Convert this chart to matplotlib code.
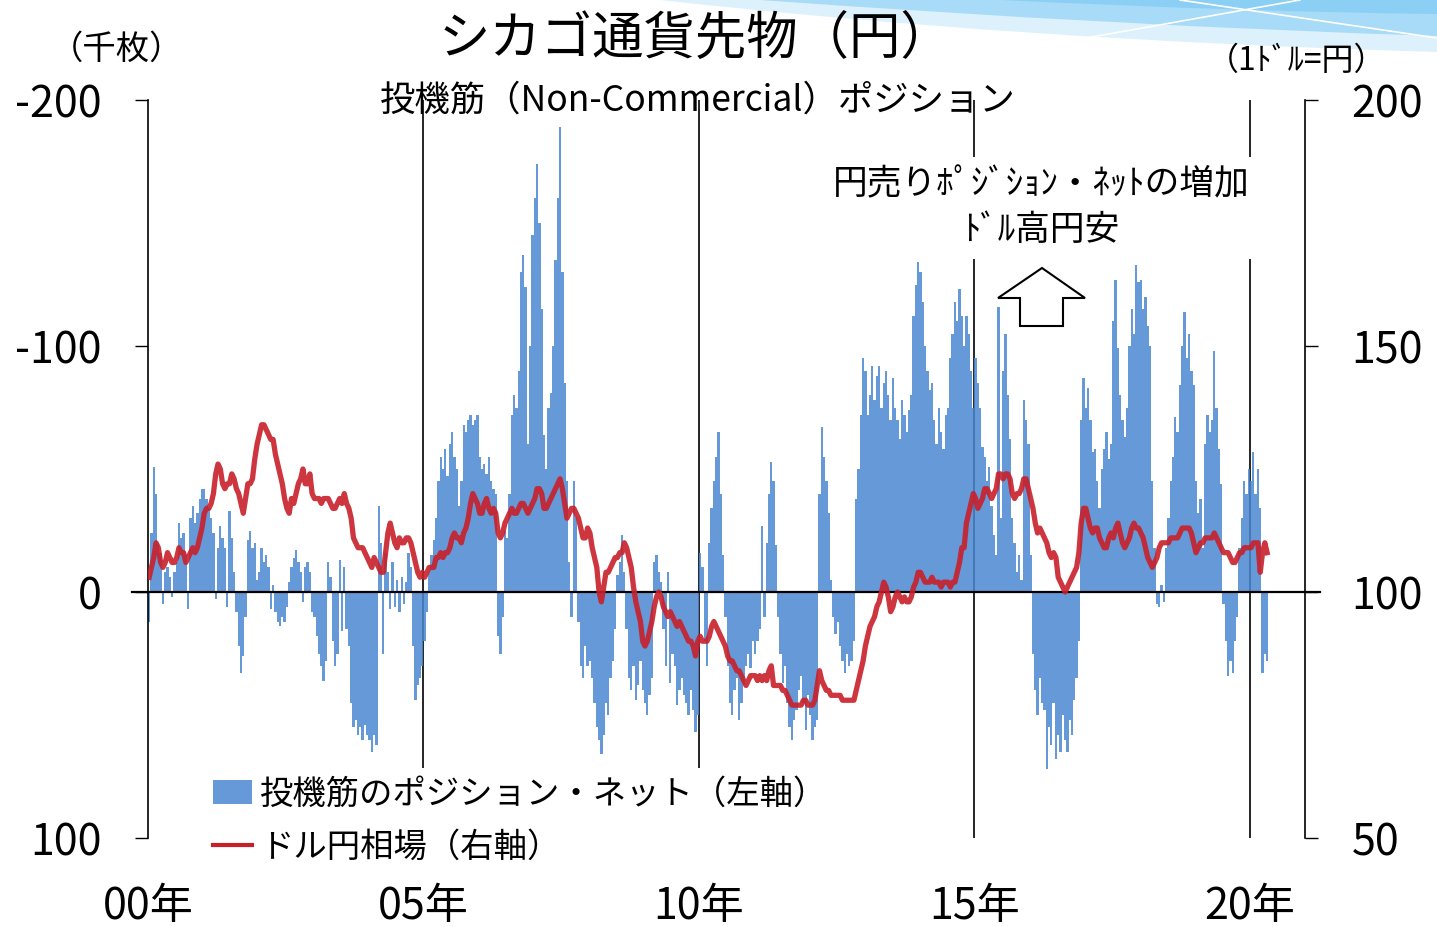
import numpy as np
import matplotlib
matplotlib.use('Agg')
import matplotlib.pyplot as plt
from matplotlib.patches import Polygon, PathPatch, Patch
from matplotlib.path import Path
from matplotlib.lines import Line2D

plt.rcParams['font.family'] = ['Noto Sans CJK JP', 'DejaVu Sans']
plt.rcParams['axes.unicode_minus'] = False

# ---------------- data (semi-monthly readings) ----------------
start_year = 2000
# speculators' net yen position (thousand contracts; negative = yen short)
net_2000 = [12, -24, -51, -40, -20, -16, 5, -8, -10, -6, 2, -8, -12, -28, -22, -24, -15, 7, -30, -35, -28, -32, -38, -42]
net_2001 = [-42, -38, -34, -30, -24, 3, -18, -27, -22, -18, 6, -33, -22, -8, 8, 22, 33, 26, 10, -21, -25, -18, -20, -5]
net_2002 = [-8, -18, -12, -15, -10, 7, -3, 8, 12, 14, 10, 12, 6, -4, -10, -14, -17, -12, -8, 4, -10, -12, -8, 8]
net_2003 = [10, 18, 25, 30, 36, 28, -12, -6, 20, 30, 25, -13, 16, -10, 15, 22, 45, 55, 52, 58, 55, 60, 54, 58]
net_2004 = [60, 65, 58, 62, -35, -20, 25, -16, -8, 7, -12, 6, -5, 8, -6, 5, -4, -16, -10, 22, 44, 38, 35, 30]
net_2005 = [20, 8, -8, -15, -21, -30, -45, -55, -50, -58, -47, -60, -65, -55, -50, -35, -45, -68, -65, -70, -72, -68, -70, -72]
net_2006 = [-55, -50, -52, -48, -55, -45, -42, -40, 18, 25, 10, -25, -22, -40, -72, -80, -75, -90, -130, -137, -124, -60, -100, -145]
net_2007 = [-160, -174, -150, -115, -64, -50, -75, -81, -100, -135, -160, -189, -130, -85, -45, -12, 10, -45, -30, 12, 30, 35, 22, 30]
net_2008 = [28, 35, 45, 55, 60, 66, 58, 45, 50, 35, 28, 15, -7, -12, -23, -8, 15, 35, 40, 30, 44, 38, 28, 40]
net_2009 = [45, 50, 42, 35, -12, -15, -8, -4, 15, 30, -8, 37, 25, 30, 46, 40, 35, 42, 45, 50, 40, 48, 57, 50]
net_2010 = [-16, -10, 20, 30, -20, -34, -45, -55, -65, -40, -15, 10, 30, 45, 50, 40, 35, 52, 45, 38, 30, 25, 31, 20]
net_2011 = [25, 20, 15, -27, 10, -20, -40, -53, -45, -19, 10, 25, 37, 30, 45, 55, 60, 52, 48, 40, 34, 45, 56, 42]
net_2012 = [50, 60, 55, 52, -40, -67, -55, -45, -32, -5, 10, 17, 12, 22, 28, 33, 25, 30, 28, 20, -38, -50, -72, -95]
net_2013 = [-90, -72, -80, -92, -78, -88, -92, -75, -85, -90, -80, -70, -87, -75, -70, -62, -78, -72, -65, -74, -80, -112, -125, -134]
net_2014 = [-130, -118, -100, -90, -82, -85, -70, -60, -75, -65, -58, -72, -75, -95, -105, -118, -110, -123, -112, -100, -112, -105, -90, -75]
net_2015 = [-95, -85, -75, -59, -55, -45, -51, -35, -23, -15, -116, -30, -90, -105, -80, -62, -30, -20, -8, -15, -5, -78, -70, -60]
net_2016 = [-15, 25, 40, 50, 35, 45, 48, 72, 55, 62, 45, 68, 58, 65, 50, 60, 65, 52, 58, 44, 35, 20, -70, -87]
net_2017 = [-75, -83, -70, -57, -58, -45, -34, -50, -58, -65, -54, -60, -110, -127, -99, -80, -70, -63, -75, -100, -115, -105, -133, -126]
net_2018 = [-127, -115, -120, -108, -100, -45, -18, 5, 6, -3, 4, -18, -30, -45, -55, -71, -65, -84, -100, -114, -95, -105, -90, -84]
net_2019 = [-45, -32, -38, -18, -60, -72, -65, -70, -98, -75, -58, -44, 5, 20, 34, 28, 33, 20, 10, -18, -30, -45, -40, -50]
net_2020 = [-45, -57, -40, -50, -34, 33, 25, 28]

# USD/JPY rate (yen per dollar)
fx_2000 = [103, 105, 107, 110, 109, 106, 105, 106, 108, 107, 106, 106, 107, 109, 108, 108, 106, 107, 108, 109, 108, 109, 111, 113]
fx_2001 = [116, 117, 117, 118, 120, 124, 126, 125, 122, 121, 122, 122, 124, 123, 121, 120, 118, 116, 119, 122, 122, 123, 127, 130]
fx_2002 = [132, 134, 134, 133, 132, 131, 131, 128, 126, 124, 122, 119, 117, 116, 119, 118, 120, 122, 123, 125, 122, 122, 124, 120]
fx_2003 = [119, 119, 119, 118, 119, 119, 119, 118, 117, 117, 118, 119, 118, 120, 118, 117, 115, 111, 110, 109, 109, 109, 108, 107]
fx_2004 = [106, 105, 107, 106, 105, 104, 104, 108, 112, 114, 112, 110, 109, 111, 110, 110, 111, 111, 110, 108, 106, 104, 103, 104]
fx_2005 = [103, 104, 105, 105, 105, 107, 107, 108, 107, 108, 108, 109, 111, 112, 111, 111, 110, 112, 113, 115, 118, 120, 119, 118]
fx_2006 = [116, 116, 118, 119, 117, 116, 117, 116, 112, 111, 112, 114, 115, 116, 117, 116, 116, 117, 118, 118, 117, 116, 117, 118]
fx_2007 = [119, 121, 121, 120, 117, 117, 118, 119, 120, 121, 122, 123, 121, 118, 115, 116, 117, 117, 116, 115, 113, 111, 111, 113]
fx_2008 = [112, 109, 107, 105, 100, 98, 101, 104, 104, 105, 106, 107, 107, 108, 108, 110, 109, 107, 105, 101, 98, 96, 94, 90]
fx_2009 = [89, 90, 92, 94, 97, 99, 100, 99, 97, 96, 95, 96, 95, 94, 93, 94, 93, 92, 91, 90, 90, 89, 87, 90]
fx_2010 = [91, 90, 90, 90, 91, 93, 94, 93, 92, 91, 90, 89, 87, 86, 86, 85, 84, 84, 83, 82, 81, 82, 83, 83]
fx_2011 = [83, 82, 83, 82, 83, 82, 84, 85, 81, 81, 81, 81, 80, 80, 79, 78, 77, 77, 77, 77, 77, 78, 78, 77]
fx_2012 = [77, 77, 78, 81, 84, 82, 81, 80, 80, 79, 79, 79, 79, 79, 78, 78, 78, 78, 78, 78, 80, 82, 84, 86]
fx_2013 = [89, 91, 93, 94, 95, 97, 98, 100, 102, 101, 99, 96, 97, 99, 100, 99, 98, 99, 98, 98, 99, 101, 102, 104]
fx_2014 = [104, 103, 102, 102, 102, 103, 102, 102, 102, 101, 102, 102, 102, 101, 102, 102, 104, 106, 109, 109, 114, 116, 118, 120]
fx_2015 = [119, 117, 118, 119, 121, 121, 120, 119, 120, 121, 124, 124, 123, 124, 124, 123, 120, 119, 120, 120, 121, 123, 123, 121]
fx_2016 = [119, 117, 114, 112, 113, 112, 111, 110, 108, 107, 108, 107, 103, 102, 101, 100, 101, 102, 103, 104, 105, 108, 114, 117]
fx_2017 = [117, 115, 113, 112, 113, 113, 111, 110, 109, 109, 111, 112, 111, 113, 114, 112, 110, 109, 110, 111, 113, 114, 113, 113]
fx_2018 = [112, 111, 109, 107, 106, 105, 106, 107, 109, 110, 110, 110, 110, 111, 111, 111, 111, 112, 113, 113, 113, 113, 112, 110]
fx_2019 = [108, 109, 110, 110, 111, 111, 111, 111, 112, 111, 110, 109, 108, 108, 108, 107, 106, 106, 107, 108, 108, 109, 109, 109]
fx_2020 = [109, 110, 110, 110, 104, 108, 110, 108]

left_ticks = [-200, -100, 0, 100]
left_labels = ['-200', '-100', '0', '100']
right_ticks = [50, 100, 150, 200]
right_labels = ['50', '100', '150', '200']
x_ticks = [2000, 2005, 2010, 2015, 2020]
x_labels = ['00年', '05年', '10年', '15年', '20年']
divider_years = [2005, 2010, 2015, 2020]

title = 'シカゴ通貨先物（円）'
subtitle = '投機筋（Non-Commercial）ポジション'
left_unit = '（千枚）'
right_unit = '（1ﾄﾞﾙ=円）'
note = '円売りﾎﾟｼﾞｼｮﾝ・ﾈｯﾄの増加\nﾄﾞﾙ高円安'
legend_labels = ['投機筋のポジション・ネット（左軸）', 'ドル円相場（右軸）']

net_years = [net_2000, net_2001, net_2002, net_2003, net_2004, net_2005, net_2006,
             net_2007, net_2008, net_2009, net_2010, net_2011, net_2012, net_2013,
             net_2014, net_2015, net_2016, net_2017, net_2018, net_2019, net_2020]
fx_years = [fx_2000, fx_2001, fx_2002, fx_2003, fx_2004, fx_2005, fx_2006,
            fx_2007, fx_2008, fx_2009, fx_2010, fx_2011, fx_2012, fx_2013,
            fx_2014, fx_2015, fx_2016, fx_2017, fx_2018, fx_2019, fx_2020]

t_net, v_net, t_fx, v_fx = [], [], [], []
for i, (ny, fy) in enumerate(zip(net_years, fx_years)):
    for k, v in enumerate(ny):
        t_net.append(start_year + i + k / 24)
        v_net.append(v)
    for k, v in enumerate(fy):
        t_fx.append(start_year + i + (k + 0.5) / 24)
        v_fx.append(v)

# ---------------- figure ----------------
W, H = 1437, 927
fig = plt.figure(figsize=(W / 100, H / 100), dpi=100)

def fx_(x):
    return x / W

def fy_(y):
    return 1 - y / H

# decorative swoosh top-right
def swoosh(pts_top, ctrl, color, z):
    verts = [(fx_(a), fy_(b)) for a, b in pts_top] + [(fx_(ctrl[0]), fy_(ctrl[1])), (fx_(pts_top[0][0]), fy_(pts_top[0][1]))]
    codes = [Path.MOVETO] + [Path.LINETO] * (len(pts_top) - 1) + [Path.CURVE3, Path.CURVE3]
    fig.add_artist(PathPatch(Path(verts, codes), facecolor=color, edgecolor='none',
                             transform=fig.transFigure, zorder=z))

swoosh([(660, 0), (1437, 0), (1437, 52)], (1020, 40), '#DDF1FC', -3)
swoosh([(760, 0), (1437, 0), (1437, 36)], (1120, 26), '#A8DBF7', -2)
swoosh([(1000, 0), (1437, 0), (1437, 14)], (1250, 12), '#8CCFF4', -1)
fig.add_artist(Line2D([fx_(1030), fx_(1300)], [fy_(48), fy_(0)], color='white', lw=1.2,
                      transform=fig.transFigure, zorder=-0.5))
fig.add_artist(Line2D([fx_(1180), fx_(1437)], [fy_(0), fy_(38)], color='white', lw=1.2,
                      transform=fig.transFigure, zorder=-0.5))

ax = fig.add_axes([fx_(148), fy_(838), (1305 - 148) / W, (838 - 100) / H])
ax.set_facecolor('none')
ax.set_xlim(2000, 2021.0)
ax.set_ylim(100, -200)

for yr in divider_years:
    ax.axvline(yr, color='black', lw=1.2, zorder=1)

ax.bar(t_net, v_net, width=1 / 24, align='edge', color='#4B87D1', alpha=0.85,
       linewidth=0, zorder=2)
ax.plot([-0.014, 1.013], [0, 0], transform=ax.get_yaxis_transform(), color='black',
        lw=1.6, clip_on=False, zorder=3)

for s in ['top', 'bottom', 'right']:
    ax.spines[s].set_visible(False)
ax.spines['left'].set_linewidth(1.2)
ax.set_yticks(left_ticks, left_labels)
ax.tick_params(axis='y', direction='out', length=9.5, width=1.0, labelsize=31, pad=24)
ax.set_xticks(x_ticks, x_labels)
ax.tick_params(axis='x', length=0, labelsize=31, pad=34)

ax2 = ax.twinx()
ax2.set_ylim(50, 200)
ax2.plot(t_fx, v_fx, color='#C8202A', lw=3.8, alpha=0.9, solid_joinstyle='round', zorder=4)
for s in ['top', 'bottom', 'left']:
    ax2.spines[s].set_visible(False)
ax2.spines['right'].set_linewidth(1.2)
ax2.set_yticks(right_ticks, right_labels)
ax2.tick_params(axis='y', direction='out', length=9.5, width=1.0, labelsize=31, pad=24)

# texts
fig.text(fx_(695), fy_(40), title, ha='center', va='center', fontsize=37, zorder=10)
fig.text(fx_(698), fy_(101), subtitle, ha='center', va='center', fontsize=25.5, zorder=10)
fig.text(fx_(117), fy_(49), left_unit, ha='center', va='center', fontsize=24, zorder=10)
fig.text(fx_(1297), fy_(61), right_unit, ha='center', va='center', fontsize=23, zorder=10)
fig.text(fx_(1041), fy_(208), note, ha='center', va='center', multialignment='center',
         fontsize=25, linespacing=1.4, zorder=10,
         bbox=dict(facecolor='white', edgecolor='none', boxstyle='square,pad=0.3'))

# hollow up arrow
arrow_px = [(1042, 268), (1085, 298), (1063, 298), (1063, 326), (1020, 326), (1020, 298), (998, 298)]
fig.add_artist(Polygon([(fx_(a), fy_(b)) for a, b in arrow_px], closed=True, facecolor='white',
                       edgecolor='black', lw=1.5, transform=fig.transFigure, zorder=10))

handles = [Patch(facecolor='#6699D8', edgecolor='none'),
           Line2D([], [], color='#C8202A', lw=3)]
fig.legend(handles, legend_labels, loc='upper left', bbox_to_anchor=(fx_(205), fy_(768)),
           frameon=True, facecolor='white', edgecolor='none', framealpha=1, fancybox=False,
           fontsize=24, handlelength=1.15, handleheight=0.75, handletextpad=0.25,
           borderpad=0.25, borderaxespad=0, labelspacing=0.55)

fig.savefig('out.png', dpi=100)
